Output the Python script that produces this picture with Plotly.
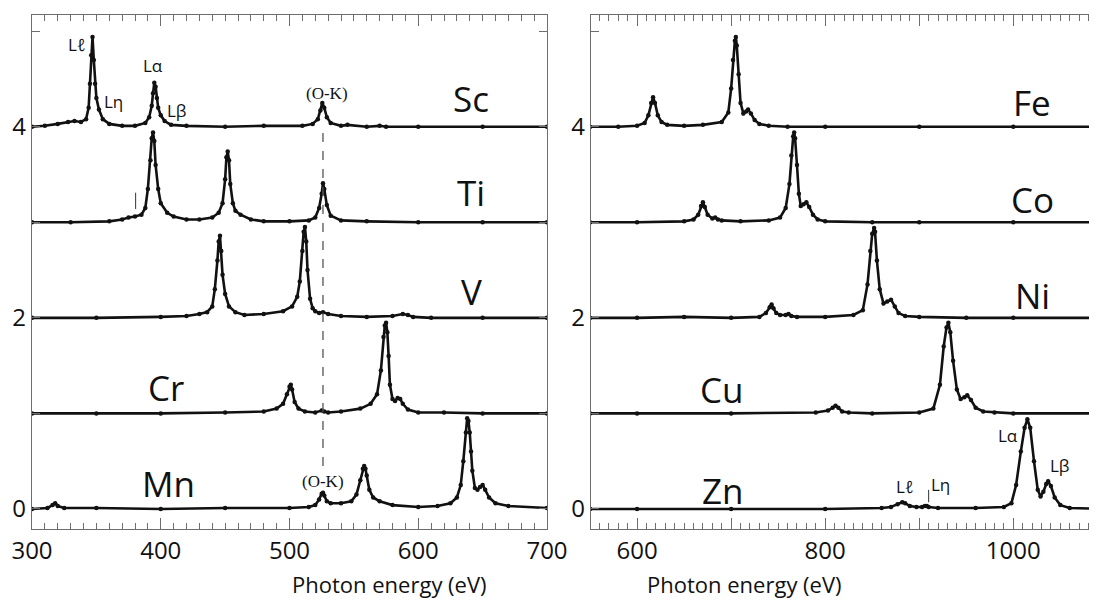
import plotly.graph_objects as go

# ---------------- data ----------------
left_elements = ["Sc", "Ti", "V", "Cr", "Mn"]
left_offsets = [4, 3, 2, 1, 0]

sc_e = [300, 310, 320, 328, 333, 338, 342, 344, 345, 346, 347, 348, 349, 350, 352, 355, 360, 370, 380, 388, 391, 393, 394, 395, 396, 397, 398, 400, 403, 408, 420, 450, 480, 510, 518, 522, 524, 525.5, 527, 529, 532, 540, 545, 560, 570, 575, 600, 650, 700]
sc_i = [0, 0.01, 0.03, 0.05, 0.06, 0.05, 0.08, 0.2, 0.45, 0.75, 0.94, 0.7, 0.45, 0.3, 0.18, 0.08, 0.03, 0.01, 0.01, 0.04, 0.1, 0.22, 0.35, 0.46, 0.42, 0.3, 0.2, 0.12, 0.06, 0.02, 0.01, 0.0, 0.01, 0.01, 0.03, 0.08, 0.17, 0.25, 0.2, 0.1, 0.04, 0.01, 0.02, 0.0, 0.01, 0.0, 0.0, 0.0, 0.0]

ti_e = [300, 330, 360, 370, 375, 380, 385, 388, 390, 392, 393, 394, 395, 396, 398, 400, 405, 410, 420, 430, 440, 445, 448, 450, 451, 452, 453, 454, 456, 458, 462, 470, 480, 500, 515, 520, 523, 525, 526, 527, 529, 532, 540, 560, 600, 650, 700]
ti_i = [0, 0, 0.01, 0.03, 0.05, 0.06, 0.08, 0.15, 0.35, 0.65, 0.88, 0.94, 0.85, 0.6, 0.35, 0.2, 0.1, 0.06, 0.03, 0.03, 0.05, 0.1, 0.2, 0.45, 0.68, 0.74, 0.65, 0.4, 0.2, 0.12, 0.08, 0.03, 0.01, 0.01, 0.02, 0.05, 0.15, 0.3, 0.41, 0.35, 0.18, 0.07, 0.02, 0.01, 0.0, 0.0, 0.0]

v_e = [300, 350, 400, 420, 430, 436, 440, 442, 444, 445, 446, 447, 448, 450, 453, 458, 465, 480, 495, 502, 506, 508, 510, 511, 512, 513, 514, 516, 518, 520, 523, 526, 530, 540, 560, 580, 588, 592, 596, 610, 650, 700]
v_i = [0, 0, 0.01, 0.02, 0.04, 0.06, 0.12, 0.3, 0.6, 0.8, 0.86, 0.7, 0.45, 0.25, 0.12, 0.06, 0.03, 0.04, 0.07, 0.12, 0.22, 0.38, 0.7, 0.9, 0.95, 0.8, 0.5, 0.2, 0.1, 0.07, 0.05, 0.06, 0.04, 0.02, 0.01, 0.02, 0.04, 0.03, 0.01, 0.0, 0.0, 0.0]

cr_e = [300, 350, 400, 450, 480, 490, 495, 498, 500, 501, 502, 504, 507, 512, 520, 525, 527, 530, 540, 555, 563, 568, 571, 573, 574, 575, 576, 577, 578, 580, 582, 584, 586, 588, 592, 600, 620, 650, 700]
cr_i = [0, 0, 0, 0.01, 0.02, 0.05, 0.1, 0.2, 0.28, 0.3, 0.25, 0.12, 0.05, 0.02, 0.01, 0.03, 0.02, 0.01, 0.02, 0.05, 0.1, 0.2, 0.45, 0.8, 0.92, 0.95, 0.85, 0.6, 0.3, 0.15, 0.13, 0.16, 0.15, 0.1, 0.04, 0.01, 0.01, 0.0, 0.0]

mn_e = [300, 312, 316, 318, 320, 325, 350, 400, 450, 500, 515, 520, 523, 525, 526, 527, 529, 532, 540, 548, 552, 555, 557, 558, 559, 560, 562, 565, 570, 580, 600, 615, 625, 630, 633, 635, 637, 638, 639, 640, 641, 642, 644, 646, 648, 650, 652, 655, 660, 670, 700]
mn_i = [0, 0.01, 0.04, 0.06, 0.03, 0.01, 0.01, 0.0, 0.01, 0.01, 0.02, 0.04, 0.1, 0.16, 0.17, 0.14, 0.08, 0.06, 0.06, 0.08, 0.15, 0.3, 0.42, 0.45, 0.42, 0.35, 0.2, 0.12, 0.08, 0.04, 0.02, 0.03, 0.06, 0.12, 0.25, 0.5, 0.8, 0.95, 0.92, 0.8, 0.6, 0.4, 0.22, 0.2, 0.23, 0.25, 0.2, 0.12, 0.06, 0.03, 0.01]

right_elements = ["Fe", "Co", "Ni", "Cu", "Zn"]
right_offsets = [4, 3, 2, 1, 0]

fe_e = [550, 580, 600, 608, 612, 615, 617, 619, 622, 626, 632, 650, 670, 690, 697, 700, 702, 704, 705, 706, 708, 710, 713, 716, 718, 721, 725, 730, 740, 760, 800, 900, 1000, 1100]
fe_i = [0, 0, 0.01, 0.04, 0.12, 0.25, 0.31, 0.25, 0.12, 0.05, 0.02, 0.01, 0.02, 0.05, 0.15, 0.4, 0.7, 0.9, 0.94, 0.85, 0.55, 0.25, 0.14, 0.16, 0.18, 0.14, 0.07, 0.03, 0.01, 0.0, 0.0, 0.0, 0.0, 0.0]

co_e = [550, 600, 650, 660, 665, 668, 670, 672, 675, 680, 683, 686, 690, 710, 740, 752, 758, 762, 764, 766, 767, 768, 770, 772, 774, 777, 780, 783, 787, 792, 800, 850, 900, 1000, 1100]
co_i = [0, 0, 0.01, 0.03, 0.08, 0.17, 0.21, 0.16, 0.08, 0.04, 0.05, 0.03, 0.02, 0.01, 0.02, 0.05, 0.15, 0.4, 0.7, 0.9, 0.94, 0.88, 0.6, 0.3, 0.17, 0.19, 0.21, 0.16, 0.08, 0.03, 0.01, 0.0, 0.0, 0.0, 0.0]

ni_e = [550, 600, 650, 700, 730, 737, 741, 743, 745, 748, 752, 758, 761, 764, 770, 800, 830, 840, 845, 848, 850, 852, 853, 855, 858, 862, 866, 870, 874, 878, 885, 900, 950, 1000, 1100]
ni_i = [0, 0, 0.01, 0.0, 0.01, 0.05, 0.11, 0.14, 0.1, 0.05, 0.03, 0.03, 0.04, 0.02, 0.01, 0.01, 0.03, 0.08, 0.35, 0.7, 0.88, 0.94, 0.9, 0.6, 0.3, 0.15, 0.17, 0.19, 0.12, 0.05, 0.02, 0.01, 0.0, 0.0, 0.0]

cu_e = [550, 600, 700, 790, 803, 808, 811, 814, 818, 825, 850, 900, 915, 922, 926, 929, 931, 933, 936, 940, 944, 948, 951, 955, 960, 968, 980, 1000, 1100]
cu_i = [0, 0, 0, 0.01, 0.03, 0.06, 0.08, 0.06, 0.02, 0.01, 0.0, 0.01, 0.05, 0.3, 0.7, 0.9, 0.95, 0.85, 0.55, 0.25, 0.15, 0.17, 0.19, 0.14, 0.06, 0.02, 0.01, 0.0, 0.0]

zn_e = [550, 600, 700, 800, 860, 870, 877, 882, 885, 890, 897, 903, 906, 908, 910, 920, 960, 990, 998, 1003, 1008, 1012, 1015, 1018, 1022, 1026, 1029, 1032, 1035, 1037, 1040, 1044, 1050, 1060, 1100]
zn_i = [0, 0, 0, 0, 0.01, 0.02, 0.05, 0.07, 0.06, 0.03, 0.02, 0.02, 0.03, 0.03, 0.02, 0.01, 0.01, 0.02, 0.06, 0.25, 0.6, 0.85, 0.94, 0.85, 0.5, 0.2, 0.13, 0.18, 0.26, 0.29, 0.24, 0.12, 0.04, 0.01, 0.0]

left_series = [(sc_e, sc_i), (ti_e, ti_i), (v_e, v_i), (cr_e, cr_i), (mn_e, mn_i)]
right_series = [(fe_e, fe_i), (co_e, co_i), (ni_e, ni_i), (cu_e, cu_i), (zn_e, zn_i)]

# element label positions (energy, y)
left_label_pos = [(641, 4.30), (641, 3.31), (641, 2.28), (404, 1.27), (406, 0.27)]
right_label_pos = [(1020, 4.25), (1020, 3.24), (1020, 2.23), (690, 1.25), (691, 0.19)]

# line-name annotations
left_lines = [("Lℓ", 335, 4.86), ("Lη", 363, 4.26), ("Lα", 394, 4.64), ("Lβ", 412.5, 4.17)]
right_lines = [("Lℓ", 885, 0.24), ("Lη", 923, 0.26), ("Lα", 994, 0.77), ("Lβ", 1050, 0.45)]
ok_labels = [(529, 4.35), (526, 0.29)]
ok_energy = 526
ok_span = (0.45, 3.97)

# ---------------- figure ----------------
fig = go.Figure()
BLACK = "#111111"
AXC = "#6e6e6e"

for (e, i), off in zip(left_series, left_offsets):
    fig.add_trace(go.Scatter(x=e, y=[v + off for v in i], mode="lines+markers",
                             line=dict(color=BLACK, width=2.6), marker=dict(color=BLACK, size=4.5),
                             xaxis="x", yaxis="y", showlegend=False, hoverinfo="skip"))
for (e, i), off in zip(right_series, right_offsets):
    fig.add_trace(go.Scatter(x=e, y=[v + off for v in i], mode="lines+markers",
                             line=dict(color=BLACK, width=2.6), marker=dict(color=BLACK, size=4.5),
                             xaxis="x2", yaxis="y2", showlegend=False, hoverinfo="skip"))

# page body margin shifts the figure by ~8 px; lay out in reference pixels minus OFF
OFF = 8
W, H = 1097 - OFF, 601 - OFF
top_px, bot_px = 15 - OFF, 529 - OFF

ann = []
SANS = "Open Sans"
for name, (x, y) in zip(left_elements, left_label_pos):
    ann.append(dict(x=x, y=y, xref="x", yref="y", text=name, showarrow=False,
                    font=dict(family=SANS, size=35, color=BLACK)))
for name, (x, y) in zip(right_elements, right_label_pos):
    ann.append(dict(x=x, y=y, xref="x2", yref="y2", text=name, showarrow=False,
                    font=dict(family=SANS, size=35, color=BLACK)))
for t, x, y in left_lines:
    ann.append(dict(x=x, y=y, xref="x", yref="y", text=t, showarrow=False,
                    font=dict(family=SANS, size=17, color=BLACK)))
for t, x, y in right_lines:
    ann.append(dict(x=x, y=y, xref="x2", yref="y2", text=t, showarrow=False,
                    font=dict(family=SANS, size=17, color=BLACK)))
for x, y in ok_labels:
    ann.append(dict(x=x, y=y, xref="x", yref="y", text="(O-K)", showarrow=False,
                    font=dict(family="Liberation Serif", size=17, color=BLACK)))

# axis titles (x in reference px, y in reference px)
for cx in (290, 844):
    ann.append(dict(x=(cx - OFF) / W, y=1 - ((584 - OFF) - top_px) / (bot_px - top_px),
                    xref="paper", yref="paper", text="Photon energy (eV)", showarrow=False,
                    yanchor="middle", font=dict(family=SANS, size=22, color=BLACK)))

shapes = [
    dict(type="line", xref="x", yref="y", x0=ok_energy, x1=ok_energy, y0=ok_span[0], y1=ok_span[1],
         line=dict(color="#555555", width=1.3, dash="dash")),
    dict(type="line", xref="x", yref="y", x0=380.5, x1=380.5, y0=3.14, y1=3.31,
         line=dict(color="#333333", width=1)),
    dict(type="line", xref="x2", yref="y2", x0=910, x1=910, y0=0.07, y1=0.2,
         line=dict(color="#333333", width=1)),
]

tickfont = dict(family=SANS, size=24, color=BLACK)
common_x = dict(showline=True, linecolor=AXC, linewidth=1.3, mirror="allticks", ticks="inside",
                tickcolor=AXC, ticklen=11, tickwidth=1.2, showgrid=False, zeroline=False,
                tickfont=tickfont, automargin=False)
common_y = dict(showline=True, linecolor=AXC, linewidth=1.3, ticks="inside", tickcolor=AXC,
                ticklen=8, tickwidth=1.2, showgrid=False, zeroline=False, tickfont=tickfont,
                range=[-0.21, 5.17], tickvals=[0, 1, 2, 3, 4, 5], ticktext=["0", "", "2", "", "4", ""],
                automargin=False)

fig.update_layout(
    width=W, height=H,
    margin=dict(l=0, r=0, t=top_px, b=H - bot_px),
    paper_bgcolor="white", plot_bgcolor="white",
    xaxis=dict(domain=[(32 - OFF) / W, (547 - OFF) / W], range=[300, 700], anchor="y", dtick=100, tick0=300,
               minor=dict(dtick=10, tick0=300, ticks="inside", ticklen=6, tickcolor=AXC, tickwidth=1),
               **common_x),
    xaxis2=dict(domain=[(591 - OFF) / W, 1.0], range=[551, 1089], anchor="y2",
                tickvals=[600, 700, 800, 900, 1000], ticktext=["600", "", "800", "", "1000"],
                minor=dict(dtick=10, tick0=550, ticks="inside", ticklen=6, tickcolor=AXC, tickwidth=1),
                **common_x),
    yaxis=dict(domain=[0, 1], anchor="x", mirror="allticks", **common_y),
    yaxis2=dict(domain=[0, 1], anchor="x2", mirror=False, **common_y),
    annotations=ann,
    shapes=shapes,
)

fig.write_html("out.html")
